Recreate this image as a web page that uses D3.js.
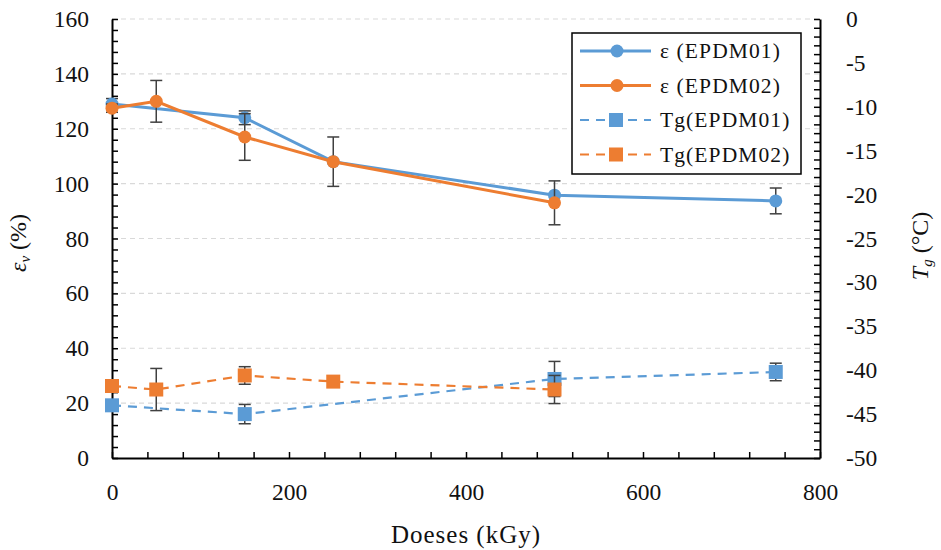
<!DOCTYPE html>
<html><head><meta charset="utf-8">
<script src="https://cdn.jsdelivr.net/npm/d3@7"></script>
<style>body{margin:0;background:#fff}svg{display:block}</style>
</head><body><svg id="c" width="941" height="550"></svg>
<script>
// Data
const epsDoses1 = [0, 150, 250, 500, 750];
const epsVals1 = [129, 124, 108, 95.8, 93.7];
const epsErr1 = [2, 2.5, 0, 0, 4.7];
const epsDoses2 = [0, 50, 150, 250, 500];
const epsVals2 = [127.5, 130, 117, 108, 93];
const epsErr2 = [1.5, 7.6, 8.5, 9, 8];
const tgDoses1 = [0, 150, 500, 750];
const tgVals1 = [-44, -45, -41, -40.2];
const tgErr1 = [0, 1.1, 2, 1];
const tgDoses2 = [0, 50, 150, 250, 500];
const tgVals2 = [-41.8, -42.2, -40.6, -41.3, -42.2];
const tgErr2 = [0, 2.4, 1, 0, 1.6];
const xTicks = [0, 200, 400, 600, 800];
const yLeftTicks = [0, 20, 40, 60, 80, 100, 120, 140, 160];
const yRightTicks = [0, -5, -10, -15, -20, -25, -30, -35, -40, -45, -50];
const legendLabels = ["ε (EPDM01)", "ε (EPDM02)", "Tg(EPDM01)", "Tg(EPDM02)"];

const blue = "#5B9BD5", orange = "#ED7D31", errC = "#404040";
const font = "'Liberation Serif', 'DejaVu Serif', serif";
const svg = d3.select("#c");
const L = 112, R = 820, T = 19, B = 458;
const x = d3.scaleLinear().domain([0, 800]).range([L, R]);
const yL = d3.scaleLinear().domain([0, 160]).range([B, T]);
const yR = d3.scaleLinear().domain([-50, 0]).range([B, T]);

// gridlines
svg.append("g").selectAll("line").data(yLeftTicks.filter(d => d > 0)).join("line")
  .attr("x1", L).attr("x2", R).attr("y1", d => yL(d)).attr("y2", d => yL(d))
  .attr("stroke", "#d9d9d9").attr("stroke-width", 1.2).attr("stroke-dasharray", "5,4");

// axes
function styleAxis(g) {
  g.selectAll("path.domain").attr("stroke", "#000").attr("stroke-width", 2);
  g.selectAll("line").attr("stroke", "#000").attr("stroke-width", 1.5);
  g.selectAll("text").attr("font-family", font).attr("font-size", 23.5).attr("fill", "#111");
}
const gx = svg.append("g").attr("transform", `translate(0,${B})`)
  .call(d3.axisBottom(x).tickValues(d3.range(0, 801, 40)).tickSizeInner(-6).tickSizeOuter(0).tickFormat(d => xTicks.includes(d) ? d : ""));
gx.selectAll("text").attr("y", 25).attr("dy", "0.71em");
styleAxis(gx);
const gl = svg.append("g").attr("transform", `translate(${L},0)`)
  .call(d3.axisLeft(yL).tickValues(d3.range(0, 161, 4)).tickSizeInner(-6).tickSizeOuter(0).tickFormat(d => yLeftTicks.includes(d) ? d : ""));
gl.selectAll("text").attr("x", -23);
styleAxis(gl);
const gr = svg.append("g").attr("transform", `translate(${R},0)`)
  .call(d3.axisRight(yR).tickValues(d3.range(-50, 0.1, 1)).tickSizeInner(-6).tickSizeOuter(0).tickFormat(d => yRightTicks.includes(d) ? d : ""));
gr.selectAll("text").attr("x", 26);
styleAxis(gr);

// titles
svg.append("text").attr("x", 466).attr("y", 543).attr("text-anchor", "middle")
  .attr("font-family", font).attr("font-size", 25).attr("letter-spacing", 1).attr("fill", "#111").text("Doeses (kGy)");
const lt = svg.append("text").attr("transform", `translate(26,243) rotate(-90)`).attr("text-anchor", "middle")
  .attr("font-family", font).attr("font-size", 24).attr("fill", "#111");
lt.append("tspan").attr("font-style", "italic").text("ε");
lt.append("tspan").attr("font-style", "italic").attr("font-size", 15).attr("dy", 4).text("v");
lt.append("tspan").attr("dy", -4).text(" (%)");
const rt = svg.append("text").attr("transform", `translate(928,246) rotate(-90)`).attr("text-anchor", "middle")
  .attr("font-family", font).attr("font-size", 24).attr("fill", "#111");
rt.append("tspan").attr("font-style", "italic").text("T");
rt.append("tspan").attr("font-style", "italic").attr("font-size", 15).attr("dy", 4).text("g");
rt.append("tspan").attr("dy", -4).text(" (°C)");

function series(doses, vals, errs, yS, color, dashed, marker) {
  const pts = doses.map((d, i) => ({ d, v: vals[i], e: errs[i] }));
  const g = svg.append("g");
  g.append("path").datum(pts).attr("fill", "none").attr("stroke", color)
    .attr("stroke-width", dashed ? 2.2 : 3).attr("stroke-dasharray", dashed ? "9,7" : null)
    .attr("d", d3.line().x(p => x(p.d)).y(p => yS(p.v)));
  const eb = pts.filter(p => p.e > 0);
  g.selectAll("line.v").data(eb).join("line").attr("x1", p => x(p.d)).attr("x2", p => x(p.d))
    .attr("y1", p => yS(p.v - p.e)).attr("y2", p => yS(p.v + p.e)).attr("stroke", errC).attr("stroke-width", 1.5);
  [1, -1].forEach(s => g.selectAll("line.c" + s).data(eb).join("line")
    .attr("x1", p => x(p.d) - 6).attr("x2", p => x(p.d) + 6)
    .attr("y1", p => yS(p.v + s * p.e)).attr("y2", p => yS(p.v + s * p.e)).attr("stroke", errC).attr("stroke-width", 1.5));
  if (marker === "circle") {
    g.selectAll("circle").data(pts).join("circle").attr("cx", p => x(p.d)).attr("cy", p => yS(p.v)).attr("r", 6.5).attr("fill", color);
  } else {
    g.selectAll("rect").data(pts).join("rect").attr("x", p => x(p.d) - 7).attr("y", p => yS(p.v) - 7)
      .attr("width", 14).attr("height", 14).attr("fill", color);
  }
}
series(tgDoses1, tgVals1, tgErr1, yR, blue, true, "square");
series(tgDoses2, tgVals2, tgErr2, yR, orange, true, "square");
series(epsDoses1, epsVals1, epsErr1, yL, blue, false, "circle");
series(epsDoses2, epsVals2, epsErr2, yL, orange, false, "circle");

// legend
const lg = svg.append("g");
lg.append("rect").attr("x", 572).attr("y", 33).attr("width", 229).attr("height", 141)
  .attr("fill", "#fff").attr("stroke", "#000").attr("stroke-width", 1.5);
const legColors = [blue, orange, blue, orange];
legendLabels.forEach((t, i) => {
  const yy = 51 + i * 34.5;
  const dashed = i >= 2;
  lg.append("line").attr("x1", 580).attr("x2", 651).attr("y1", yy).attr("y2", yy)
    .attr("stroke", legColors[i]).attr("stroke-width", dashed ? 2.2 : 3).attr("stroke-dasharray", dashed ? "9,7" : null);
  if (dashed) lg.append("rect").attr("x", 609).attr("y", yy - 7).attr("width", 14).attr("height", 14).attr("fill", legColors[i]);
  else lg.append("circle").attr("cx", 617).attr("cy", yy).attr("r", 6.5).attr("fill", legColors[i]);
  lg.append("text").attr("x", 660).attr("y", yy + 7).attr("font-family", font).attr("font-size", 21.5)
    .attr("letter-spacing", 1.1).attr("fill", "#111").text(t);
});
</script></body></html>
